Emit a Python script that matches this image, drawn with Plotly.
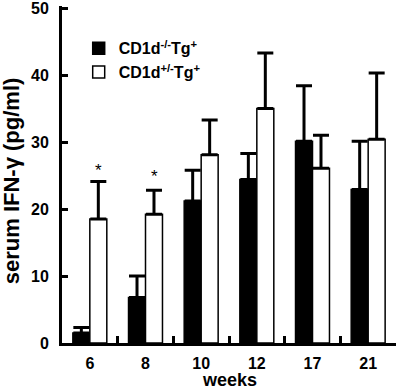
import plotly.graph_objects as go

weeks = ["6", "8", "10", "12", "17", "21"]
ko_mean = [1.5, 6.8, 21.2, 24.4, 30.1, 22.9]
ko_err = [0.8, 3.2, 4.6, 3.9, 8.3, 7.2]
het_mean = [18.5, 19.2, 28.1, 35.0, 26.1, 30.4]
het_err = [5.6, 3.6, 5.2, 8.3, 4.9, 9.9]
sig_weeks = ["6", "8"]
sig_y = [25.8, 24.8]

font = "Liberation Sans, Arial, sans-serif"

fig = go.Figure()
fig.add_trace(go.Bar(
    x=weeks, y=ko_mean, name="CD1d<sup>-/-</sup>Tg<sup>+</sup>",
    marker=dict(color="black", line=dict(color="black", width=1.5)),
    error_y=dict(type="data", array=ko_err, arrayminus=[0]*6, symmetric=False,
                 color="black", thickness=3, width=8),
))
fig.add_trace(go.Bar(
    x=weeks, y=het_mean, name="CD1d<sup>+/-</sup>Tg<sup>+</sup>",
    marker=dict(color="white", line=dict(color="black", width=1.5)),
    error_y=dict(type="data", array=het_err, arrayminus=[0]*6, symmetric=False,
                 color="black", thickness=3, width=8),
))
for w, yv in zip(sig_weeks, sig_y):
    fig.add_annotation(x=weeks.index(w), y=yv, xshift=8.5, text="*", showarrow=False,
                       font=dict(size=17, color="black", family=font), yanchor="middle")

# axis titles as paper annotations
fig.add_annotation(xref="paper", yref="paper", x=0, y=0.48, xshift=-51,
                   text="serum IFN-γ (pg/ml)", textangle=-90, showarrow=False,
                   xanchor="center", yanchor="middle",
                   font=dict(size=22, family=font, weight="bold", color="black"))
fig.add_annotation(xref="paper", yref="paper", x=0.5, y=0, yshift=-25,
                   text="weeks", showarrow=False, xanchor="center", yanchor="top",
                   font=dict(size=18, family=font, weight="bold", color="black"))

fig.update_layout(
    width=400, height=390,
    margin=dict(l=62, r=4, t=6, b=47),
    plot_bgcolor="white", paper_bgcolor="white",
    barmode="group", bargap=0.39, bargroupgap=0,
    font=dict(family=font, color="black", size=14),
    showlegend=True,
    legend=dict(x=0.05, y=0.925, xanchor="left", yanchor="top",
                font=dict(size=16, family=font, weight="bold"),
                bgcolor="rgba(0,0,0,0)", itemwidth=30, tracegroupgap=6),
    xaxis=dict(
        type="category", range=[-0.5, 5.5], automargin=False,
        showline=True, linecolor="black", linewidth=3,
        ticks="inside", ticklen=7, tickwidth=3, tickcolor="black",
        tickson="boundaries", ticklabelstandoff=4,
        tickfont=dict(size=16, family=font, weight="bold"),
        showgrid=False,
    ),
    yaxis=dict(
        range=[0, 50.3], tickvals=[0, 10, 20, 30, 40, 50], automargin=False,
        showline=True, linecolor="black", linewidth=3,
        ticks="inside", ticklen=6, tickwidth=3, tickcolor="black",
        ticklabelstandoff=7, ticklabeloverflow="allow",
        tickfont=dict(size=16, family=font, weight="bold"),
        showgrid=False, zeroline=False,
    ),
)

fig.write_html("out.html", config={"displayModeBar": False},
               post_script="document.body.style.margin='0';")
